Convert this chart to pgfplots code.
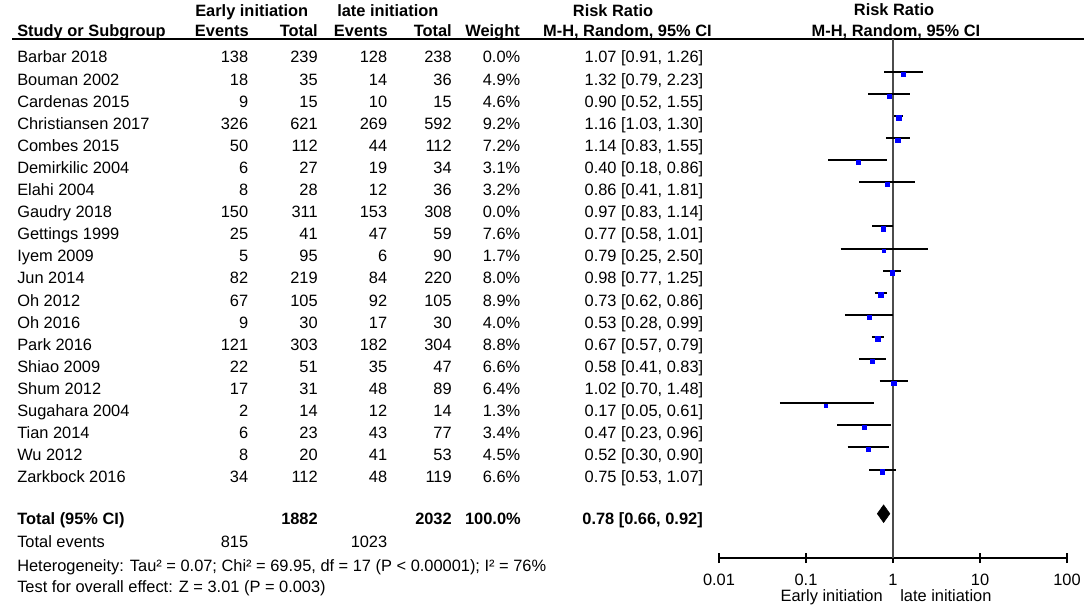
\documentclass[border=0pt]{standalone}
\usepackage{fontspec}
\setmainfont{Liberation Sans}
\usepackage{pgfplots}
\usepackage{pgfplotstable}
\pgfplotsset{compat=1.18}

\newcommand{\fs}{\fontsize{12.3pt}{14pt}\selectfont}

% row = line position of the study in the table (1 = Barbar 2018)
\pgfplotstableread{
row rr   w
2   1.32 4.9
3   0.90 4.6
4   1.16 9.2
5   1.14 7.2
6   0.40 3.1
7   0.86 3.2
9   0.77 7.6
10  0.79 1.7
11  0.98 8.0
12  0.73 8.9
13  0.53 4.0
14  0.67 8.8
15  0.58 6.6
16  1.02 6.4
17  0.17 1.3
18  0.47 3.4
19  0.52 4.5
20  0.75 6.6
}\studies

% 95% CI ends, one segment per study
\pgfplotstableread{
x    row
0.79 2
2.23 2
nan  nan
0.52 3
1.55 3
nan  nan
1.03 4
1.30 4
nan  nan
0.83 5
1.55 5
nan  nan
0.18 6
0.86 6
nan  nan
0.41 7
1.81 7
nan  nan
0.58 9
1.01 9
nan  nan
0.25 10
2.50 10
nan  nan
0.77 11
1.25 11
nan  nan
0.62 12
0.86 12
nan  nan
0.28 13
0.99 13
nan  nan
0.57 14
0.79 14
nan  nan
0.41 15
0.83 15
nan  nan
0.70 16
1.48 16
nan  nan
0.05 17
0.61 17
nan  nan
0.23 18
0.96 18
nan  nan
0.30 19
0.90 19
nan  nan
0.53 20
1.07 20
}\cis

\begin{document}
\begin{tikzpicture}[x=0.75pt, y=-0.75pt, every node/.style={font=\fs, inner sep=0pt}]
\path[use as bounding box] (0,0) rectangle (1084,609);

% header
\node[anchor=base west, font=\fs\bfseries] at (195,17) {Early initiation};
\node[anchor=base west, font=\fs\bfseries] at (337,17) {late initiation};
\node[anchor=base, font=\fs\bfseries] at (613,17) {Risk Ratio};
\node[anchor=base, font=\fs\bfseries] at (894,16) {Risk Ratio};
\node[anchor=base west, font=\fs\bfseries] at (17,36.7) {Study or Subgroup};
\node[anchor=base east, font=\fs\bfseries] at (249,36.7) {Events};
\node[anchor=base east, font=\fs\bfseries] at (318,36.7) {Total};
\node[anchor=base east, font=\fs\bfseries] at (388,36.7) {Events};
\node[anchor=base east, font=\fs\bfseries] at (452,36.7) {Total};
\node[anchor=base east, font=\fs\bfseries] at (520,36.7) {Weight};
\node[anchor=base east, font=\fs\bfseries] at (712,36.7) {M-H, Random, 95\% CI};
\node[anchor=base, font=\fs\bfseries] at (896,36.7) {M-H, Random, 95\% CI};
\draw[line width=1.5pt] (12,39.3) -- (1084,39.3);

% study rows
\foreach \n/\a/\b/\c/\d/\w/\r [count=\i] in {
  Barbar 2018/138/239/128/238/0.0\%/{1.07 [0.91, 1.26]},
  Bouman 2002/18/35/14/36/4.9\%/{1.32 [0.79, 2.23]},
  Cardenas 2015/9/15/10/15/4.6\%/{0.90 [0.52, 1.55]},
  Christiansen 2017/326/621/269/592/9.2\%/{1.16 [1.03, 1.30]},
  Combes 2015/50/112/44/112/7.2\%/{1.14 [0.83, 1.55]},
  Demirkilic 2004/6/27/19/34/3.1\%/{0.40 [0.18, 0.86]},
  Elahi 2004/8/28/12/36/3.2\%/{0.86 [0.41, 1.81]},
  Gaudry 2018/150/311/153/308/0.0\%/{0.97 [0.83, 1.14]},
  Gettings 1999/25/41/47/59/7.6\%/{0.77 [0.58, 1.01]},
  Iyem 2009/5/95/6/90/1.7\%/{0.79 [0.25, 2.50]},
  Jun 2014/82/219/84/220/8.0\%/{0.98 [0.77, 1.25]},
  Oh 2012/67/105/92/105/8.9\%/{0.73 [0.62, 0.86]},
  Oh 2016/9/30/17/30/4.0\%/{0.53 [0.28, 0.99]},
  Park 2016/121/303/182/304/8.8\%/{0.67 [0.57, 0.79]},
  Shiao 2009/22/51/35/47/6.6\%/{0.58 [0.41, 0.83]},
  Shum 2012/17/31/48/89/6.4\%/{1.02 [0.70, 1.48]},
  Sugahara 2004/2/14/12/14/1.3\%/{0.17 [0.05, 0.61]},
  Tian 2014/6/23/43/77/3.4\%/{0.47 [0.23, 0.96]},
  Wu 2012/8/20/41/53/4.5\%/{0.52 [0.30, 0.90]},
  Zarkbock 2016/34/112/48/119/6.6\%/{0.75 [0.53, 1.07]}} {
  \pgfmathsetmacro\yb{63+(\i-1)*22.1}
  \node[anchor=base west] at (17,\yb) {\n};
  \node[anchor=base east] at (248.5,\yb) {\a};
  \node[anchor=base east] at (318,\yb) {\b};
  \node[anchor=base east] at (387.5,\yb) {\c};
  \node[anchor=base east] at (452,\yb) {\d};
  \node[anchor=base east] at (520.5,\yb) {\w};
  \node[anchor=base east] at (703.5,\yb) {\r};
}

% totals
\node[anchor=base west, font=\fs\bfseries] at (17,524.3) {Total (95\% CI)};
\node[anchor=base east, font=\fs\bfseries] at (318,524.3) {1882};
\node[anchor=base east, font=\fs\bfseries] at (452,524.3) {2032};
\node[anchor=base east, font=\fs\bfseries] at (521,524.3) {100.0\%};
\node[anchor=base east, font=\fs\bfseries] at (703,524.3) {0.78 [0.66, 0.92]};
\node[anchor=base west] at (17,547.3) {Total events};
\node[anchor=base east] at (248.5,547.3) {815};
\node[anchor=base east] at (387.5,547.3) {1023};
\node[anchor=base west] at (17,571) {Heterogeneity: Tau² = 0.07; Chi² = 69.95, df = 17 (P < 0.00001); I² = 76\%};
\node[anchor=base west] at (17,592.3) {Test for overall effect: Z = 3.01 (P = 0.003)};

% bottom labels of the plot
\node[anchor=base east] at (883,601) {Early initiation};
\node[anchor=base west] at (900,601) {late initiation};

\coordinate (plotsw) at (719,558);
\begin{axis}[
  at={(plotsw)}, anchor=south west,
  scale only axis, width=261pt, height=389pt,
  xmode=log, xmin=0.01, xmax=100,
  ymin=0.534, ymax=24.005, y dir=reverse,
  axis x line*=bottom, axis y line=none,
  x axis line style={line width=1.5pt, -},
  xtick={0.01,0.1,1,10,100},
  xticklabels={0.01,0.1,1,10,100},
  xminorticks=false,
  major tick length=7.5pt, tick align=center,
  tick style={black, line width=1.5pt},
  xticklabel style={font=\fs, anchor=base, yshift=-16.5pt},
  clip=false,
]
\addplot[black!70, line width=1.5pt] coordinates {(1,0.534) (1,24.005)};
\addplot[black, line width=1.5pt, unbounded coords=jump] table[x=x, y=row] {\cis};
\addplot[only marks, mark=square*, blue,
  scatter, scatter/use mapped color={draw=blue, fill=blue},
  visualization depends on={\thisrow{w} \as \wt},
  mark options={yshift=-1.6pt},
  scatter/@pre marker code/.append style={/tikz/mark size={(2.6+0.27*\wt)*0.375pt}}]
  table[x=rr, y=row] {\studies};
\addplot[fill=black, draw=black] coordinates {(0.66,22) (0.78,21.6) (0.92,22) (0.78,22.4)} -- cycle;
\end{axis}
\end{tikzpicture}
\end{document}
